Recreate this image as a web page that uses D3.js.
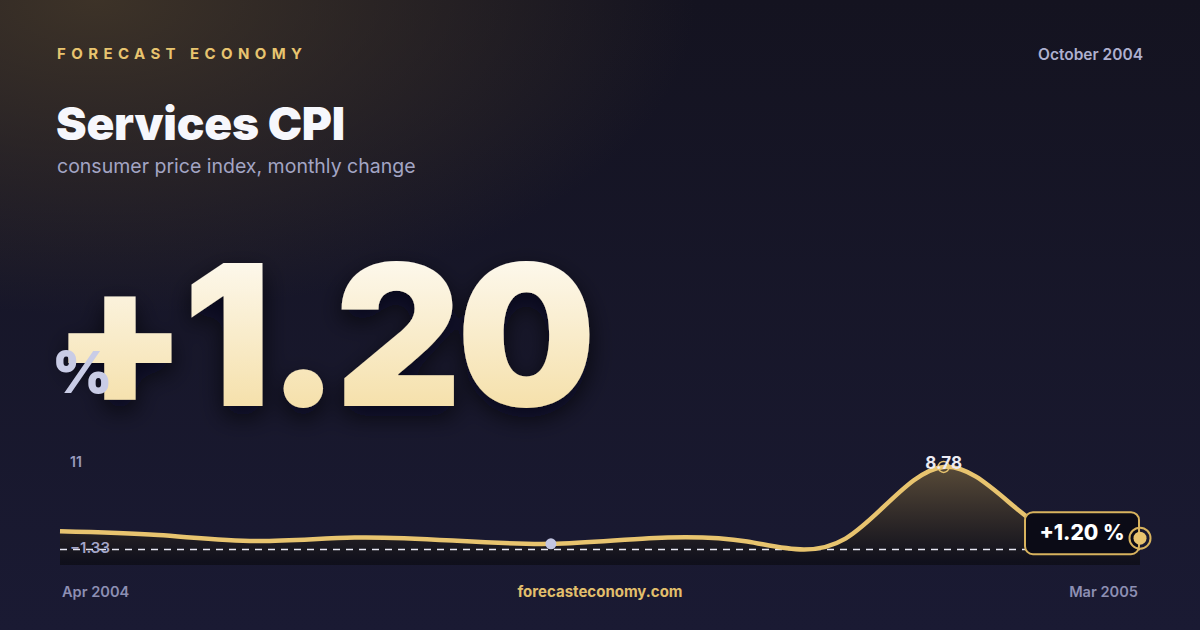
<!DOCTYPE html>
<html>
<head>
<meta charset="utf-8">
<script src="https://cdn.jsdelivr.net/npm/d3@7"></script>
<style>
  html, body { margin: 0; padding: 0; background: #161629; }
  svg { display: block; font-family: Inter, "Noto Sans", sans-serif; }
</style>
</head>
<body>
<div id="card"></div>
<script>
// === chart data ===
const months = ["Apr 2004", "May 2004", "Jun 2004", "Jul 2004", "Aug 2004", "Sep 2004",
  "Oct 2004", "Nov 2004", "Dec 2004", "Jan 2005", "Feb 2005", "Mar 2005"];
const values = [1.94, 1.53, 0.90, 1.27, 0.95, 0.60, 1.20, 0.85, 1.16, 8.78, 2.35, 1.20];
const yTicks = [-1.33, 11];
const brand = "FORECAST ECONOMY";
const dateLabel = "October 2004";
const title = "Services CPI";
const subtitle = "consumer price index, monthly change";
const headline = "+1.20";
const unit = "%";
const footerUrl = "forecasteconomy.com";
const markIndex = 5; // highlighted point

const W = 1200, H = 630;
const gold = "#e8c46f";

const svg = d3.select("#card").append("svg")
  .attr("width", W).attr("height", H)
  .attr("viewBox", [0, 0, W, H].join(" "));

const defs = svg.append("defs");

// ---- background ----
const bg = defs.append("linearGradient").attr("id", "bg")
  .attr("x1", 0).attr("y1", 0).attr("x2", 0).attr("y2", 1);
bg.append("stop").attr("offset", "0%").attr("stop-color", "#141320");
bg.append("stop").attr("offset", "100%").attr("stop-color", "#1a1a33");

const glow = defs.append("radialGradient").attr("id", "glow")
  .attr("cx", 0.08).attr("cy", 0).attr("r", 0.5);
glow.append("stop").attr("offset", "0%").attr("stop-color", "#443829").attr("stop-opacity", 0.85);
glow.append("stop").attr("offset", "100%").attr("stop-color", "#443829").attr("stop-opacity", 0);

svg.append("rect").attr("width", W).attr("height", H).attr("fill", "url(#bg)");
svg.append("rect").attr("width", W).attr("height", H).attr("fill", "url(#glow)");

// ---- header ----
svg.append("text")
  .attr("x", 57).attr("y", 59)
  .attr("fill", gold)
  .attr("font-size", 15).attr("font-weight", 700)
  .attr("letter-spacing", "0.36em")
  .text(brand);

svg.append("text")
  .attr("x", 1143).attr("y", 60)
  .attr("text-anchor", "end")
  .attr("fill", "#aeb0cf")
  .attr("font-size", 15.5).attr("font-weight", 600)
  .text(dateLabel);

svg.append("text")
  .attr("x", 56).attr("y", 140)
  .attr("fill", "#f6f7fc")
  .attr("font-size", 46).attr("font-weight", 900)
  .attr("letter-spacing", "-0.005em")
  .text(title);

svg.append("text")
  .attr("x", 57).attr("y", 173)
  .attr("fill", "#a3a5c4")
  .attr("font-size", 19.5).attr("font-weight", 400)
  .text(subtitle);

// ---- headline number ----
const bigGrad = defs.append("linearGradient").attr("id", "bigGrad")
  .attr("x1", 0).attr("y1", 0).attr("x2", 0).attr("y2", 1);
bigGrad.append("stop").attr("offset", "0%").attr("stop-color", "#ffffff");
bigGrad.append("stop").attr("offset", "100%").attr("stop-color", "#f3d997");

const shadow = defs.append("filter").attr("id", "shadow")
  .attr("x", "-10%").attr("y", "-10%").attr("width", "120%").attr("height", "140%");
shadow.append("feDropShadow")
  .attr("dx", 0).attr("dy", 10).attr("stdDeviation", 12)
  .attr("flood-color", "#05050c").attr("flood-opacity", 0.7);

svg.append("text")
  .attr("x", 52).attr("y", 406)
  .attr("fill", "url(#bigGrad)")
  .attr("filter", "url(#shadow)")
  .attr("font-size", 196).attr("font-weight", 900)
  .attr("letter-spacing", "-0.025em")
  .text(headline);

svg.append("text")
  .attr("x", 52).attr("y", 393)
  .attr("fill", "#c9cce6")
  .attr("font-size", 58).attr("font-weight", 900)
  .text(unit);

// ---- sparkline ----
const x = d3.scalePoint().domain(months).range([60, 1140]);
const y = d3.scaleLinear().domain(yTicks).range([562, 446]);
const data = months.map((m, i) => ({ m, v: values[i] }));

const areaGrad = defs.append("linearGradient").attr("id", "areaGrad")
  .attr("gradientUnits", "userSpaceOnUse")
  .attr("x1", 0).attr("y1", y(11)).attr("x2", 0).attr("y2", y(-1.33));
areaGrad.append("stop").attr("offset", "0%").attr("stop-color", "#6e5c40").attr("stop-opacity", 0.95);
areaGrad.append("stop").attr("offset", "100%").attr("stop-color", "#0e0e18").attr("stop-opacity", 0.85);

const curve = d3.curveNatural;

svg.append("path")
  .datum(data)
  .attr("fill", "url(#areaGrad)")
  .attr("d", d3.area().curve(curve)
    .x(d => x(d.m)).y0(y(-1.33) + 3).y1(d => y(d.v)));

svg.append("line")
  .attr("x1", x.range()[0]).attr("x2", x.range()[1])
  .attr("y1", y(0)).attr("y2", y(0))
  .attr("stroke", "#e6e6f2").attr("stroke-width", 1.5)
  .attr("stroke-dasharray", "7,6");

svg.append("path")
  .datum(data)
  .attr("fill", "none")
  .attr("stroke", gold)
  .attr("stroke-width", 4.5)
  .attr("stroke-linejoin", "round")
  .attr("d", d3.line().curve(curve).x(d => x(d.m)).y(d => y(d.v)));

// axis extreme labels
svg.append("text")
  .attr("x", 70).attr("y", y(11) + 21)
  .attr("fill", "#9a9cbf")
  .attr("font-size", 14).attr("font-weight", 600)
  .text(d3.format("d")(yTicks[1]));

svg.append("text")
  .attr("x", 70).attr("y", y(-1.33) - 9.5)
  .attr("fill", "#a4a6c8")
  .attr("font-size", 15).attr("font-weight", 600)
  .text(d3.format(".2f")(yTicks[0]));

// highlighted month dot
svg.append("circle")
  .attr("cx", x(months[markIndex])).attr("cy", y(values[markIndex]))
  .attr("r", 5.5).attr("fill", "#c3c6e2");

// peak marker
const peakI = d3.maxIndex(values);
const px = x(months[peakI]), py = y(values[peakI]);
svg.append("circle")
  .attr("cx", px).attr("cy", py).attr("r", 5.5)
  .attr("fill", "none").attr("stroke", gold).attr("stroke-width", 1.5);
svg.append("text")
  .attr("x", px).attr("y", py + 2)
  .attr("text-anchor", "middle")
  .attr("fill", "#ecebf3")
  .attr("font-size", 17).attr("font-weight", 700)
  .text(d3.format(".2f")(values[peakI]));

// last value badge
const last = values[values.length - 1];
const lx = x(months[months.length - 1]), ly = y(last);
const badge = svg.append("g");
badge.append("rect")
  .attr("x", lx - 115).attr("y", ly - 26)
  .attr("width", 114).attr("height", 42).attr("rx", 8)
  .attr("fill", "#0b0b16")
  .attr("stroke", "#d8b35e").attr("stroke-width", 2);
badge.append("text")
  .attr("x", lx - 58).attr("y", ly + 2)
  .attr("text-anchor", "middle")
  .attr("fill", "#ffffff")
  .attr("font-size", 21).attr("font-weight", 800)
  .text((last >= 0 ? "+" : "") + d3.format(".2f")(last) + " %");

svg.append("circle")
  .attr("cx", lx).attr("cy", ly).attr("r", 10.5)
  .attr("fill", "none").attr("stroke", "#d8b35e").attr("stroke-width", 2);
svg.append("circle")
  .attr("cx", lx).attr("cy", ly).attr("r", 6.5)
  .attr("fill", gold);

// ---- footer ----
svg.append("text")
  .attr("x", 62).attr("y", 597)
  .attr("fill", "#8d8fb3")
  .attr("font-size", 14.6).attr("font-weight", 600)
  .text(months[0]);

svg.append("text")
  .attr("x", 1138).attr("y", 597)
  .attr("text-anchor", "end")
  .attr("fill", "#8d8fb3")
  .attr("font-size", 14.6).attr("font-weight", 600)
  .text(months[months.length - 1]);

svg.append("text")
  .attr("x", 600).attr("y", 597)
  .attr("text-anchor", "middle")
  .attr("fill", "#e2bf6c")
  .attr("font-size", 15).attr("font-weight", 700)
  .text(footerUrl);
</script>
</body>
</html>
